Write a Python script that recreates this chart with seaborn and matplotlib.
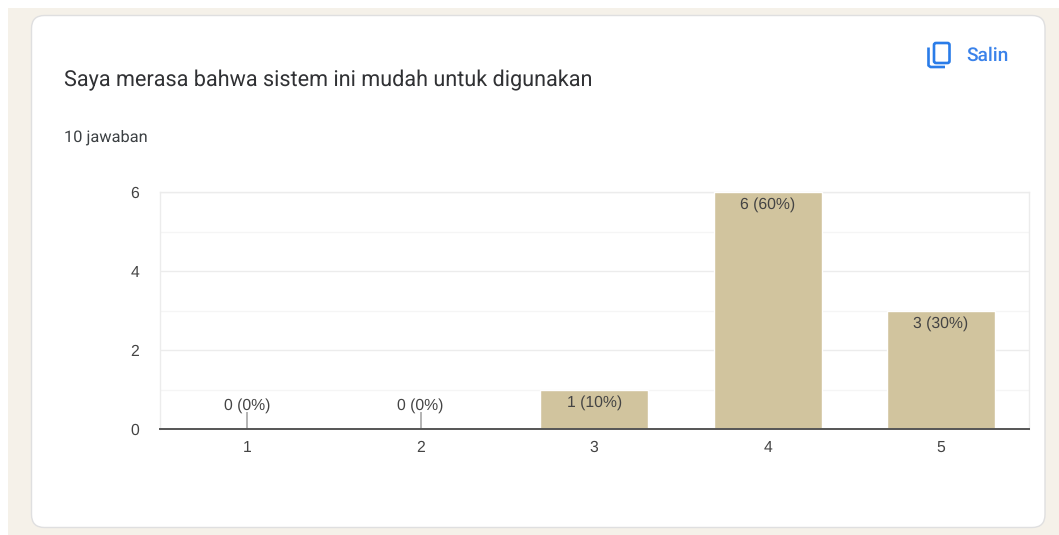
import matplotlib
matplotlib.use("Agg")
import matplotlib.pyplot as plt
from matplotlib.patches import FancyBboxPatch, Rectangle
import pandas as pd
import seaborn as sns

categories = ["1", "2", "3", "4", "5"]
counts = [0, 0, 1, 6, 3]
labels = ["0 (0%)", "0 (0%)", "1 (10%)", "6 (60%)", "3 (30%)"]
y_ticks = [0, 2, 4, 6]
minor_ticks = [1, 3, 5]
title = "Saya merasa bahwa sistem ini mudah untuk digunakan"
subtitle = "10 jawaban"
copy_label = "Salin"

W, H = 1059, 535
sns.set_theme(style="white")
plt.rcParams["font.family"] = ["Liberation Sans", "DejaVu Sans"]
plt.rcParams["text.hinting"] = "no_hinting"
plt.rcParams["text.hinting_factor"] = 8
fig = plt.figure(figsize=(W / 100, H / 100), dpi=100, facecolor="white")

bg = fig.add_axes([0, 0, 1, 1], zorder=0)
bg.set_xlim(0, W)
bg.set_ylim(H, 0)
bg.axis("off")
bg.add_patch(Rectangle((8, 8), W - 8, H - 8, fc="#f5f1e9", ec="none"))
bg.add_patch(FancyBboxPatch((31.5, 15.5), 1013.5, 512,
                            boxstyle="round,pad=0,rounding_size=13",
                            fc="white", ec="#dfdfe0", lw=1))
bg.text(64, 80.5, title, family="Roboto", fontsize=15.55, color="#303134", va="center", ha="left")
bg.text(64, 137.5, subtitle, family="Roboto", fontsize=11.8, color="#3c4043", va="center", ha="left")
bg.text(966, 55.5, copy_label, family="Roboto", fontsize=13.8, fontweight="medium",
        color="#3a82ea", va="center", ha="left")
# copy icon
bg.add_patch(FancyBboxPatch((934, 43), 15.5, 20, boxstyle="round,pad=0,rounding_size=2",
                            fc="none", ec="#2a7ce8", lw=1.9))
bg.plot([928.5, 928.5, 930.5, 945], [47.5, 65.5, 67, 67], color="#2a7ce8", lw=1.9,
        solid_capstyle="butt", solid_joinstyle="round")

ax = fig.add_axes([160 / W, 1 - 429 / H, (1029 - 160) / W, (429 - 192) / H], zorder=1)
ax.patch.set_alpha(0)
df = pd.DataFrame({"category": categories, "count": counts})
sns.barplot(data=df, x="category", y="count", color="#d1c49e", saturation=1,
            width=0.622, ax=ax, zorder=3)
ax.set_xlim(-0.503, 4.507)
ax.set_ylim(0, 6)
ax.set_xlabel("")
ax.set_ylabel("")
ax.set_yticks(y_ticks)
ax.set_yticks(minor_ticks, minor=True)
ax.grid(True, which="major", axis="y", color="#ececec", lw=1, zorder=0)
ax.grid(True, which="minor", axis="y", color="#f5f5f5", lw=1, zorder=0)
ax.grid(False, axis="x")
ax.set_axisbelow(True)
ax.tick_params(axis="both", which="both", length=0, labelsize=11.3, labelcolor="#444444")
ax.tick_params(axis="x", pad=8.3)
ax.tick_params(axis="y", pad=15)
for side in ["top", "left", "right"]:
    ax.spines[side].set_color("#ececec")
    ax.spines[side].set_linewidth(1)
ax.spines["bottom"].set_color("#555555")
ax.spines["bottom"].set_linewidth(1.4)
ax.spines["bottom"].set_zorder(5)

for i, (c, lab) in enumerate(zip(counts, labels)):
    if c == 0:
        ax.vlines(i, 0, 0.43, color="#b3b3b3", lw=1.4, zorder=4)
        ax.annotate(lab, (i, 0), xytext=(0, 17), textcoords="offset points",
                    ha="center", va="center", fontsize=11.3, color="#444444", zorder=6)
    else:
        ax.annotate(lab, (i, c), xytext=(0, -9.2), textcoords="offset points",
                    ha="center", va="center", fontsize=11.3, color="#444444", zorder=6)

fig.savefig("out.png", dpi=100)
